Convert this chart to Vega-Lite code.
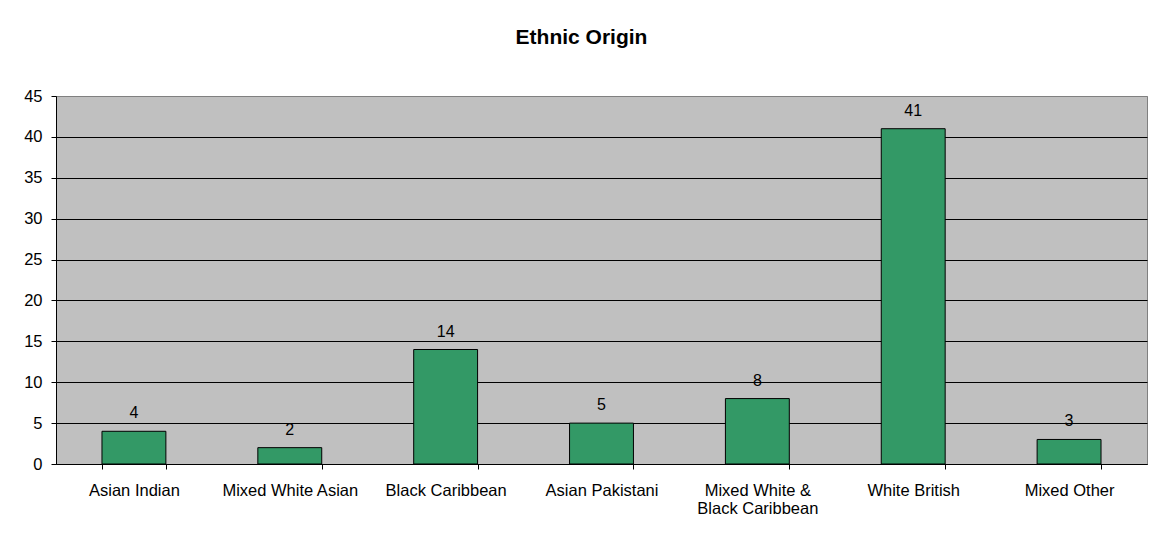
{
  "$schema": "https://vega.github.io/schema/vega-lite/v6.json",
  "width": 1091,
  "height": 368,
  "autosize": {"type": "none"},
  "padding": {"left": 56, "top": 96, "right": 7, "bottom": 74},
  "background": "white",
  "title": {
    "text": "Ethnic Origin",
    "font": "Liberation Sans",
    "fontSize": 21,
    "fontWeight": "bold",
    "color": "black",
    "anchor": "middle",
    "frame": "group",
    "baseline": "alphabetic",
    "offset": 23,
    "dx": -20
  },
  "data": {
    "values": [
      {"origin": "Asian Indian", "count": 4},
      {"origin": "Mixed White Asian", "count": 2},
      {"origin": "Black Caribbean", "count": 14},
      {"origin": "Asian Pakistani", "count": 5},
      {"origin": "Mixed White & Black Caribbean", "count": 8},
      {"origin": "White British", "count": 41},
      {"origin": "Mixed Other", "count": 3}
    ]
  },
  "encoding": {
    "x": {
      "field": "origin",
      "type": "nominal",
      "sort": null,
      "title": null,
      "scale": {"paddingInner": 0.59, "paddingOuter": 0.295},
      "axis": {
        "labelAngle": 0,
        "labelFont": "Liberation Sans",
        "labelFontSize": 16.5,
        "labelColor": "black",
        "labelPadding": 13,
        "labelLimit": 200,
        "labelLineHeight": 18,
        "labelExpr": "datum.label == 'Mixed White & Black Caribbean' ? ['Mixed White &', 'Black Caribbean'] : datum.label",
        "tickBand": "extent",
        "tickSize": 5,
        "tickColor": "black",
        "domainColor": "black",
        "grid": false
      }
    },
    "y": {
      "field": "count",
      "type": "quantitative",
      "title": null,
      "scale": {"domain": [0, 45], "nice": false},
      "axis": {
        "values": [0, 5, 10, 15, 20, 25, 30, 35, 40, 45],
        "labelFont": "Liberation Sans",
        "labelFontSize": 16.5,
        "labelColor": "black",
        "labelPadding": 9,
        "tickSize": 5,
        "tickColor": "black",
        "domainColor": "black",
        "grid": true,
        "gridColor": {"condition": {"test": "datum.value == 45", "value": "#808080"}, "value": "black"},
        "gridOpacity": 1
      }
    }
  },
  "layer": [
    {
      "mark": {"type": "bar", "fill": "#339966", "stroke": "black", "strokeWidth": 1}
    },
    {
      "mark": {
        "type": "text",
        "font": "Liberation Sans",
        "fontSize": 16,
        "color": "black",
        "baseline": "alphabetic",
        "dy": -13
      },
      "encoding": {"text": {"field": "count", "type": "quantitative"}}
    }
  ],
  "config": {
    "view": {"fill": "#C0C0C0", "stroke": "#808080", "strokeWidth": 1}
  }
}
